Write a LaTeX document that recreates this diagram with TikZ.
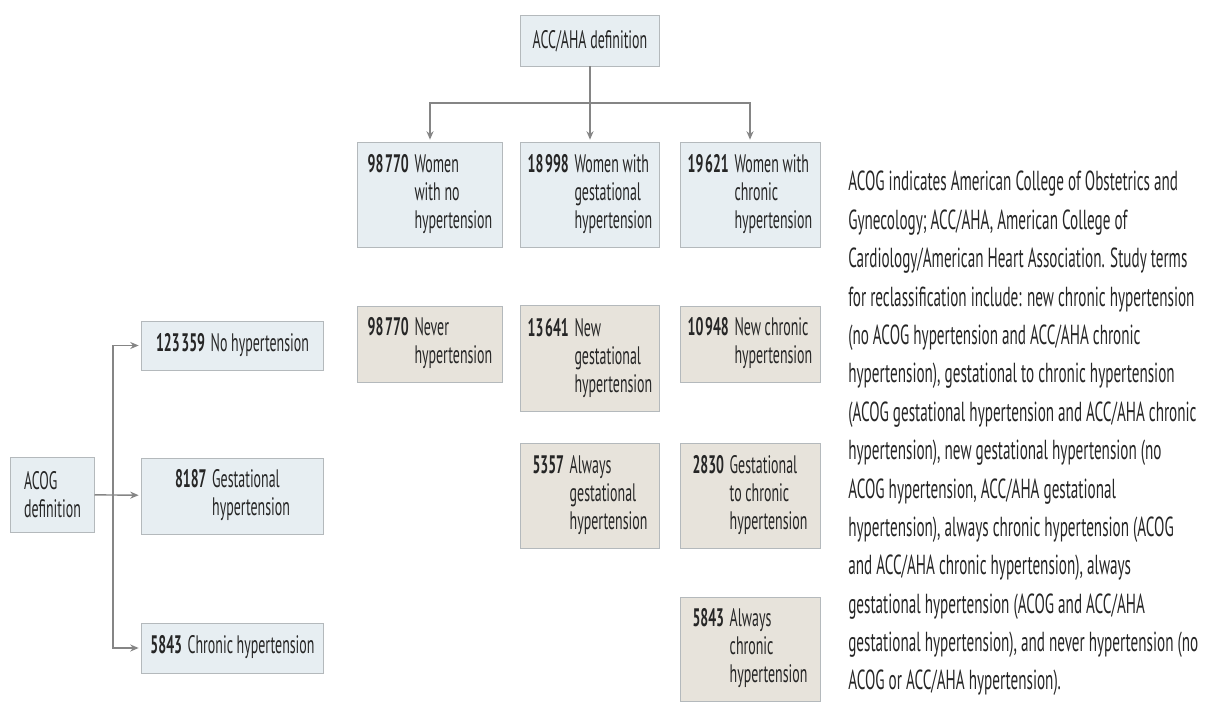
\documentclass[tikz,border=0pt]{standalone}
\usepackage{fontspec}
\setmainfont{PT Sans}[FakeStretch=0.55]
\usetikzlibrary{arrows.meta}
\definecolor{bluebox}{HTML}{E7EEF2}
\definecolor{tanbox}{HTML}{E7E3DB}
\definecolor{edgegray}{HTML}{B4B9BC}
\definecolor{wiregray}{HTML}{858585}
\definecolor{ink}{HTML}{262626}
\newcommand{\cnt}[2]{\textbf{#1}\hspace{4pt}\begin{tabular}[t]{@{}l@{}}#2\end{tabular}}
\newcommand{\ts}{\hspace{1.2pt}}

\begin{document}
\begin{tikzpicture}[x=0.025cm,y=-0.025cm,
  box/.style={draw=edgegray,line width=0.7pt,inner sep=0pt,text=ink,
    font=\fontsize{18}{20}\selectfont},
  defbox/.style={box,fill=bluebox},
  reclbox/.style={box,fill=tanbox,minimum width=3.5cm},
  arr/.style={draw=wiregray,line width=1pt,-{Stealth[length=6pt,width=5pt]},shorten >=2pt},
  wire/.style={draw=wiregray,line width=1pt}]
\useasboundingbox (0,0) rectangle (1214,702);


\node[defbox,minimum width=3.45cm,minimum height=1.25cm] (acc) at (590,41) {ACC/AHA definition};
\node[defbox,minimum width=3.6cm,minimum height=2.6cm] (w1) at (430,195) {\cnt{98\ts770}{Women\\with no\\hypertension}};
\node[defbox,minimum width=3.45cm,minimum height=2.6cm] (w2) at (590,195) {\cnt{18\ts998}{Women with\\gestational\\hypertension}};
\node[defbox,minimum width=3.5cm,minimum height=2.6cm] (w3) at (750,195) {\cnt{19\ts621}{Women with\\chronic\\hypertension}};
\coordinate (j) at (590,103);
\draw[wire] (acc) -- (j);
\draw[arr] (j) -| (w1);
\draw[arr] (j) -- (w2);
\draw[arr] (j) -| (w3);



\node[reclbox,minimum width=3.6cm,minimum height=1.9cm] (r1) at (430,344) {\cnt{98\ts770}{Never\\hypertension}};
\node[reclbox,minimum width=3.45cm,minimum height=2.625cm] (r2) at (590,358.5) {\cnt{13\ts641}{New\\gestational\\hypertension}};
\node[reclbox,minimum height=1.9cm] (r3) at (750,344) {\cnt{10\ts948}{New chronic\\\hfill hypertension}};
\node[reclbox,minimum width=3.45cm,minimum height=2.6cm] (s2) at (590,496) {\cnt{5357}{Always\\gestational\\hypertension}};
\node[reclbox,minimum height=2.6cm] (s3) at (750,496) {\cnt{2830}{Gestational\\to chronic\\hypertension}};
\node[reclbox,minimum height=2.6cm] (u3) at (750,649) {\cnt{5843}{Always\\chronic\\hypertension}};



\node[defbox,minimum width=2.075cm,minimum height=1.875cm,align=left] (acog) at (52.5,494.5) {ACOG\\definition};
\node[defbox,minimum width=4.525cm,minimum height=1.225cm] (l1) at (232.5,345.5) {\cnt{123\ts359}{No hypertension}};
\node[defbox,minimum width=4.525cm,minimum height=1.9cm] (l2) at (232.5,496) {\cnt{8187}{Gestational\\hypertension}};
\node[defbox,minimum width=4.525cm,minimum height=1.25cm] (l3) at (232.5,648) {\cnt{5843}{Chronic hypertension}};
\coordinate (k) at (113,496);
\draw[arr] (acog) -- (l2);
\draw[arr] (k) |- (l1);
\draw[arr] (k) |- (l3);



\node[anchor=north west,align=left,inner sep=0pt,text=ink,
  font=\fontsize{19.6}{27.3}\selectfont] (note) at (848,171) {ACOG indicates American College of Obstetrics and\\
Gynecology; ACC/AHA, American College of\\
Cardiology/American Heart Association. Study terms\\
for reclassification include: new chronic hypertension\\
(no ACOG hypertension and ACC/AHA chronic\\
hypertension), gestational to chronic hypertension\\
(ACOG gestational hypertension and ACC/AHA chronic\\
hypertension), new gestational hypertension (no\\
ACOG hypertension, ACC/AHA gestational\\
hypertension), always chronic hypertension (ACOG\\
and ACC/AHA chronic hypertension), always\\
gestational hypertension (ACOG and ACC/AHA\\
gestational hypertension), and never hypertension (no\\
ACOG or ACC/AHA hypertension).};
\end{tikzpicture}
\end{document}
